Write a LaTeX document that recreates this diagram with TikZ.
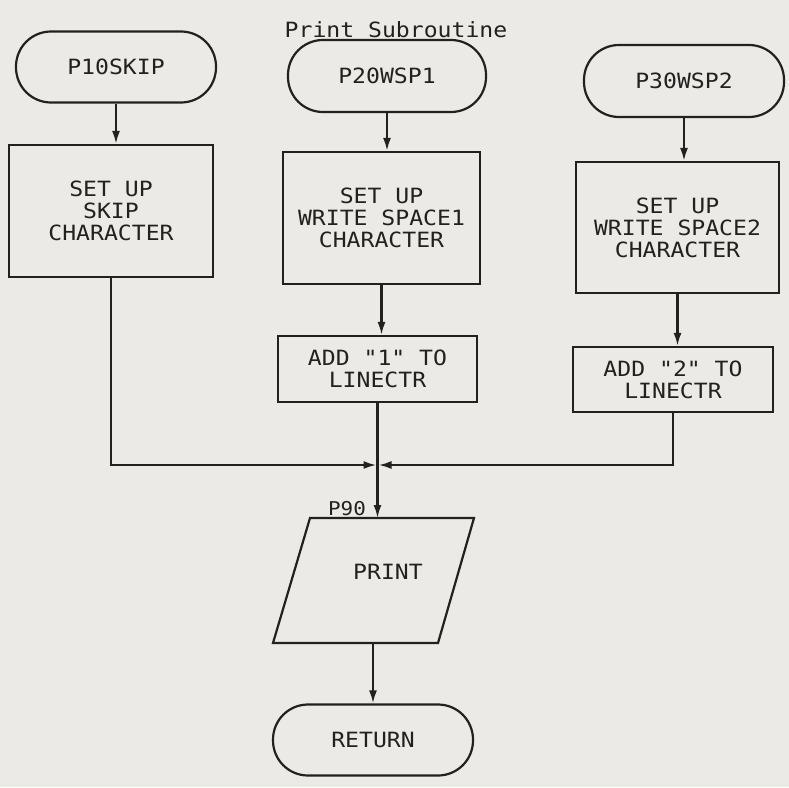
\documentclass[tikz,border=0pt]{standalone}
\usepackage{fontspec}
\setmonofont[FakeStretch=1.1]{DejaVu Sans Mono}
\usetikzlibrary{arrows.meta}
\definecolor{paper}{RGB}{236,234,230}
\definecolor{ink}{RGB}{35,33,32}
\begin{document}
\begin{tikzpicture}[x=1pt,y=-1pt,
  txt/.style={font=\ttfamily\fontsize{21}{22}\selectfont, text=ink},
  term/.style={txt, draw=ink, line width=2.2pt, rounded corners=35pt, inner sep=0pt},
  proc/.style={txt, draw=ink, line width=2.2pt, inner sep=0pt, align=center},
  conn/.style={draw=ink, line width=2.2pt, -{Latex[length=13pt,width=8pt]}}]
\fill[paper] (0,0) rectangle (789,787);
\useasboundingbox (0,0) rectangle (789,787);

\node[txt, anchor=base] (title) at (396,37) {Print Subroutine};

\node[term, minimum width=200pt, minimum height=71pt] (t1) at (116,67) {P10SKIP};
\node[term, minimum width=198pt, minimum height=72pt] (t2) at (387,76) {P20WSP1};
\node[term, minimum width=200pt, minimum height=72pt] (t3) at (684,81) {P30WSP2};

\node[proc, minimum width=204pt, minimum height=132pt] (b1) at (111,211) {SET UP\\SKIP\\CHARACTER};
\node[proc, minimum width=197pt, minimum height=132pt] (b2) at (381.5,218) {SET UP\\WRITE SPACE1\\CHARACTER};
\node[proc, minimum width=203pt, minimum height=131pt] (b3) at (677.5,227.5) {SET UP\\WRITE SPACE2\\CHARACTER};

\node[proc, minimum width=199pt, minimum height=66pt] (a1) at (377.5,369) {ADD "1" TO\\LINECTR};
\node[proc, minimum width=200pt, minimum height=65pt] (a2) at (673,379.5) {ADD "2" TO\\LINECTR};

\coordinate (j) at (377.5,465);
\coordinate (q1) at (310,518);
\coordinate (q2) at (474,518);
\coordinate (q3) at (438,643);
\coordinate (q4) at (273,643);
\coordinate (ptop) at (377.5,518);
\coordinate (pbot) at (373,643);
\draw[ink, line width=2.2pt] (q1) -- (q2) -- (q3) -- (q4) -- cycle;
\node[txt] (p) at (388,572) {PRINT};
\node[txt, font=\ttfamily\fontsize{19}{19}\selectfont, anchor=base] (p90) at (347,515) {P90};

\node[term, minimum width=200pt, minimum height=71pt] (r) at (373,740) {RETURN};

\draw[conn] (t1.south) -- (t1.south |- b1.north);
\draw[conn] (t2.south) -- (t2.south |- b2.north);
\draw[conn] (t3.south) -- (t3.south |- b3.north);
\draw[conn] (b2.south) -- (b2.south |- a1.north);
\draw[conn] (b3.south) -- (b3.south |- a2.north);
\draw[conn, shorten >=1pt] (b1.south) |- (j);
\draw[conn, shorten >=1pt] (a2.south) |- (j);
\draw[conn] (a1.south) -- (ptop);
\draw[conn] (pbot) -- (r.north);
\end{tikzpicture}
\end{document}
